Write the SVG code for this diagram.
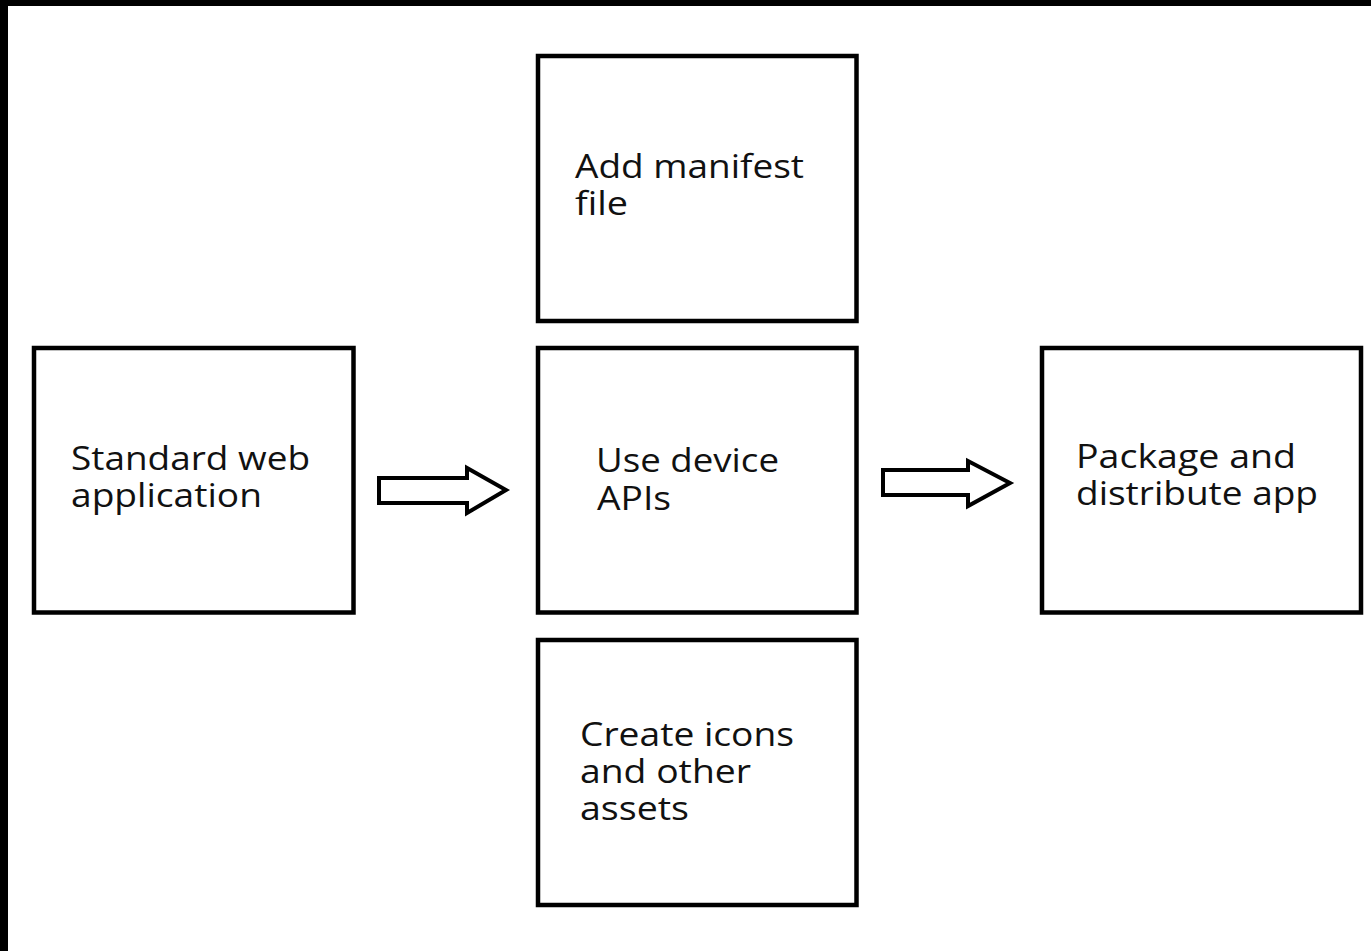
<svg xmlns="http://www.w3.org/2000/svg" width="1371" height="951" viewBox="0 0 1371 951">
<style>
.box{fill:#fff;stroke:#000;stroke-width:4.5}
.arr{fill:#fff;stroke:#000;stroke-width:4;stroke-linejoin:miter}
.t{font-family:"Open Sans","Noto Sans",sans-serif;font-size:33px;fill:#111}
</style>
<rect x="0" y="0" width="1371" height="951" fill="#fff"/>
<rect x="0" y="0" width="1371" height="6" fill="#000"/>
<rect x="0" y="0" width="8" height="951" fill="#000"/>
<g id="node-standard">
<rect class="box" x="34" y="348" width="319.5" height="264.5"/>
<text class="t" x="71" y="470" textLength="239" lengthAdjust="spacingAndGlyphs">Standard web</text>
<text class="t" x="71" y="507" textLength="191" lengthAdjust="spacingAndGlyphs">application</text>
</g>
<g id="node-manifest">
<rect class="box" x="538" y="56" width="318.5" height="265"/>
<text class="t" x="575" y="178" textLength="229" lengthAdjust="spacingAndGlyphs">Add manifest</text>
<text class="t" x="575" y="215" textLength="53" lengthAdjust="spacingAndGlyphs">file</text>
</g>
<g id="node-device">
<rect class="box" x="538" y="348" width="318.5" height="264.5"/>
<text class="t" x="596" y="472" textLength="183" lengthAdjust="spacingAndGlyphs">Use device</text>
<text class="t" x="597" y="510" textLength="74" lengthAdjust="spacingAndGlyphs">APIs</text>
</g>
<g id="node-icons">
<rect class="box" x="538" y="640" width="318.5" height="265"/>
<text class="t" x="580" y="746" textLength="214" lengthAdjust="spacingAndGlyphs">Create icons</text>
<text class="t" x="580" y="783" textLength="171" lengthAdjust="spacingAndGlyphs">and other</text>
<text class="t" x="580" y="820" textLength="109" lengthAdjust="spacingAndGlyphs">assets</text>
</g>
<g id="node-package">
<rect class="box" x="1042" y="348" width="319" height="264.5"/>
<text class="t" x="1076" y="468" textLength="220" lengthAdjust="spacingAndGlyphs">Package and</text>
<text class="t" x="1076" y="505" textLength="242" lengthAdjust="spacingAndGlyphs">distribute app</text>
</g>
<g id="connectors">
<polygon class="arr" points="379,478 467,478 467,468 506,490 467,513 467,503 379,503"/>
<polygon class="arr" points="883,470 968,470 968,461 1010,483 968,506 968,495 883,495"/>
</g>
</svg>
